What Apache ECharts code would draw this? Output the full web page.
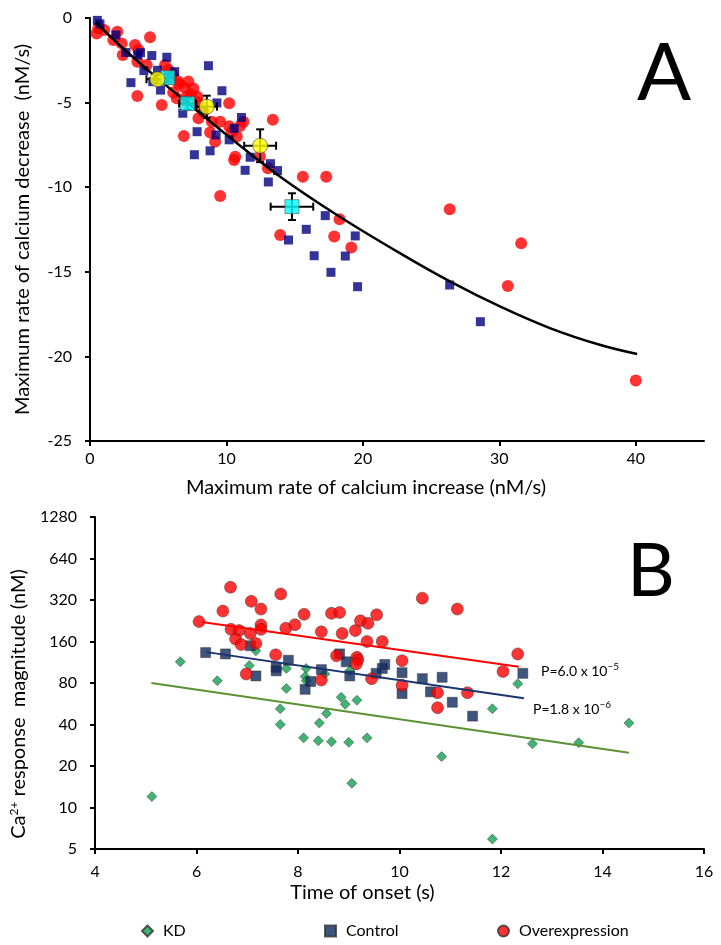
<!DOCTYPE html>
<html>
<head>
<meta charset="utf-8">
<script src="https://cdn.jsdelivr.net/npm/echarts@6/dist/echarts.min.js"></script>
<style>
  html, body { margin: 0; padding: 0; background: #fff; }
  #chart { width: 721px; height: 945px; }
</style>
</head>
<body>
<div id="chart"></div>
<script>
// ---- panel A: max rate of increase (x) vs max rate of decrease (y), nM/s
var controlA = [
  [0.54, -0.14], [0.73, -0.35], [1.9, -1.0], [2.63, -2.04], [3.7, -2.05], [3.5, -2.19],
  [4.53, -2.22], [5.63, -2.32], [8.68, -2.82], [3.95, -3.11], [3.0, -3.82], [4.95, -3.09],
  [6.21, -3.17], [4.6, -3.76], [5.17, -4.26], [9.67, -4.3], [6.8, -5.63], [8.32, -5.42],
  [9.3, -5.02], [7.85, -6.72], [9.24, -6.91], [10.2, -7.2], [10.57, -6.52], [11.1, -5.88],
  [7.65, -8.08], [8.8, -7.85], [11.74, -8.23], [11.37, -9.0], [13.23, -8.61], [13.74, -9.02],
  [13.07, -9.69], [17.24, -11.68], [15.85, -12.49], [19.44, -12.88], [14.55, -13.12],
  [16.43, -14.05], [18.71, -14.07], [17.66, -15.03], [19.61, -15.88], [26.36, -15.78], [28.61, -17.95]
]
var overA = [
  [0.49, -0.91], [0.61, -0.61], [1.05, -0.71], [1.71, -1.3], [2.0, -0.81], [2.32, -1.5],
  [2.4, -2.19], [3.3, -1.6], [3.55, -1.89], [4.4, -1.14], [3.47, -2.58], [4.16, -2.78],
  [5.5, -2.78], [5.75, -3.07], [6.06, -3.37], [6.48, -3.76], [3.47, -4.61], [5.26, -5.14],
  [6.36, -4.75], [7.21, -3.76], [7.58, -4.16], [7.87, -4.65], [7.09, -4.65], [6.0, -3.3],
  [6.5, -3.9], [6.9, -4.1], [7.4, -4.5], [6.1, -4.4], [7.0, -4.9], [7.9, -5.0], [5.8, -3.6],
  [8.31, -5.54], [7.95, -5.93], [8.93, -6.13], [9.54, -6.13], [10.2, -5.04], [6.88, -6.97],
  [8.8, -6.76], [9.17, -7.31], [10.2, -6.4], [10.4, -6.72], [11.0, -6.38], [11.25, -6.13],
  [10.76, -7.01], [10.64, -8.2], [10.56, -8.39], [12.45, -8.18], [13.4, -6.01], [9.54, -10.52],
  [13.04, -8.88], [15.6, -9.38], [17.31, -9.38], [18.29, -11.9], [13.94, -12.82], [17.9, -12.92],
  [19.15, -13.57], [26.36, -11.31], [31.6, -13.32], [30.62, -15.84], [40.0, -21.43]
]
// group means: [x, y, x error, y error]
var overMeansA = [[4.94, -3.62, 0.8, 0.25], [8.56, -5.24, 0.75, 0.65], [12.47, -7.55, 1.17, 0.97]]
var controlMeansA = [[5.7, -3.53, 0.45, 0.25], [7.15, -5.06, 0.62, 0.35], [14.8, -11.15, 1.56, 0.79]]
// fitted curve
var fitA = [
  [0.4, -0.25], [2.5, -1.85], [5, -3.6], [7.2, -5.05], [10, -6.9], [13.94, -9.38],
  [18.1, -11.64], [22.74, -13.91], [26.41, -15.58], [30.08, -17.06], [33.75, -18.34],
  [37.42, -19.33], [40.1, -19.86]
]

// ---- panel B: time of onset (s) vs Ca2+ response magnitude (nM), log2 axis
var kdB = [
  [5.12, 12], [5.68, 114], [6.41, 83], [7.04, 107], [7.17, 137], [7.77, 102], [7.77, 73],
  [7.65, 52], [7.65, 40], [8.11, 32], [8.16, 102], [8.14, 89], [8.16, 83], [8.40, 30.5],
  [8.42, 41], [8.56, 48], [8.53, 93], [8.66, 30], [8.85, 63], [8.93, 56], [9.0, 29.7],
  [9.02, 98], [9.06, 15], [9.16, 60], [9.36, 32], [10.83, 23.4], [11.83, 52], [11.83, 5.9],
  [12.33, 79], [12.62, 29], [13.53, 29.5], [14.52, 41]
]
var controlB = [
  [6.18, 133], [6.57, 130], [7.06, 149], [7.17, 90], [7.57, 104], [7.57, 98], [7.81, 117],
  [8.14, 72], [8.25, 82], [8.46, 100], [8.82, 130], [8.95, 114], [9.02, 90], [9.54, 94],
  [9.66, 102], [9.71, 109], [10.05, 95], [10.05, 67], [10.45, 86], [10.61, 69], [10.84, 88],
  [11.04, 58], [11.44, 46], [12.43, 94]
]
var overB = [
  [6.05, 223], [6.67, 396], [6.52, 266], [7.08, 313], [7.27, 275], [7.66, 354], [7.27, 211],
  [7.27, 196], [6.68, 196], [6.84, 192], [7.06, 183], [6.77, 167], [6.88, 152], [7.17, 155],
  [7.76, 200], [7.94, 212], [8.12, 252], [7.56, 128], [6.98, 93], [8.46, 188], [8.66, 256],
  [8.82, 260], [8.87, 183], [9.13, 192], [9.23, 226], [9.38, 217], [9.55, 250], [9.36, 160],
  [9.66, 160], [8.76, 126], [9.16, 123], [9.18, 118], [9.15, 110], [8.46, 84], [9.45, 86],
  [10.05, 116], [10.05, 77], [10.45, 330], [11.14, 275], [10.75, 68], [10.75, 53], [11.34, 68],
  [12.04, 97], [12.33, 130]
]
var kdFit = [[5.11, 80], [14.52, 25]]
var controlFit = [[6.2, 134], [12.45, 62]]
var overFit = [[6.1, 222], [12.35, 105]]
var yTicksB = [5, 10, 20, 40, 80, 160, 320, 640, 1280]

var FONT = 'Lato'
var log2B = function (pts) {
  return pts.map(function (p) { return [p[0], Math.log2(p[1] / yTicksB[0])] })
}

function errorBars (params, api) {
  var x = api.value(0)
  var y = api.value(1)
  var ex = api.value(2)
  var ey = api.value(3)
  var l = api.coord([x - ex, y])
  var r = api.coord([x + ex, y])
  var t = api.coord([x, y + ey])
  var b = api.coord([x, y - ey])
  var c = 4
  var st = { stroke: '#000', lineWidth: 2 }
  var seg = function (x1, y1, x2, y2) {
    return { type: 'line', shape: { x1: x1, y1: y1, x2: x2, y2: y2 }, style: st }
  }
  return {
    type: 'group',
    children: [
      seg(l[0], l[1], r[0], r[1]),
      seg(t[0], t[1], b[0], b[1]),
      seg(l[0], l[1] - c, l[0], l[1] + c),
      seg(r[0], r[1] - c, r[0], r[1] + c),
      seg(t[0] - c, t[1], t[0] + c, t[1]),
      seg(b[0] - c, b[1], b[0] + c, b[1])
    ]
  }
}

var axisBase = {
  axisLine: { onZero: false, lineStyle: { color: '#000', width: 2 } },
  axisTick: { inside: false, length: 5, lineStyle: { color: '#000', width: 2 } },
  axisLabel: { color: '#000', fontSize: 16, fontFamily: FONT },
  splitLine: { show: false },
  nameTextStyle: { color: '#000', fontSize: 20, fontFamily: FONT }
}
var legendText = { fontSize: 16, fontFamily: FONT, color: '#000', padding: [0, 0, 0, 5] }
var pRich = {
  t: { fontSize: 14, fontFamily: FONT, fill: '#000' },
  s: { fontSize: 10, fontFamily: FONT, fill: '#000', padding: [0, 0, 8, 0] }
}

var myChart = echarts.init(document.getElementById('chart'), null, { renderer: 'canvas' })
myChart.setOption({
  backgroundColor: '#fff',
  animation: false,
  grid: [
    { left: 90, top: 18, width: 614, height: 423 },
    { left: 90, top: 517, width: 614, height: 332 }
  ],
  xAxis: [
    Object.assign({}, axisBase, {
      type: 'value', gridIndex: 0, min: 0, max: 45, interval: 10,
      axisTick: Object.assign({}, axisBase.axisTick, { customValues: [0, 10, 20, 30, 40] }),
      axisLabel: Object.assign({}, axisBase.axisLabel, { customValues: [0, 10, 20, 30, 40], margin: 10 }),
      name: 'Maximum rate of calcium increase (nM/s)',
      nameLocation: 'middle',
      nameGap: 37,
      nameTextStyle: Object.assign({}, axisBase.nameTextStyle, { padding: [0, 62, 0, 0] })
    }),
    Object.assign({}, axisBase, {
      type: 'value', gridIndex: 1, min: 4, max: 16, interval: 2,
      axisLabel: Object.assign({}, axisBase.axisLabel, { margin: 15 }),
      name: 'Time of onset (s)',
      nameLocation: 'middle',
      nameGap: 34,
      nameTextStyle: Object.assign({}, axisBase.nameTextStyle, { padding: [0, 74, 0, 0] })
    })
  ],
  yAxis: [
    Object.assign({}, axisBase, {
      type: 'value', gridIndex: 0, min: -25, max: 0, interval: 5,
      axisLabel: Object.assign({}, axisBase.axisLabel, { margin: 18 }),
      name: 'Maximum rate of calcium decrease  (nM/s)',
      nameLocation: 'middle',
      nameGap: 57
    }),
    Object.assign({}, axisBase, {
      type: 'value', gridIndex: 1, min: 0, max: 8, interval: 1,
      axisLabel: Object.assign({}, axisBase.axisLabel, {
        margin: 18,
        formatter: function (v) { return String(yTicksB[0] * Math.pow(2, v)) }
      }),
      name: '{t|Ca}{s|2+}{t| response  magnitude (nM)}',
      nameLocation: 'middle',
      nameGap: 57,
      nameTextStyle: {
        color: '#000', fontSize: 20, fontFamily: FONT, padding: [0, 42, 0, 0],
        rich: {
          t: { fontSize: 20, fontFamily: FONT, color: '#000' },
          s: { fontSize: 12, fontFamily: FONT, color: '#000', padding: [0, 0, 10, 0] }
        }
      }
    })
  ],
  legend: [
    { data: ['KD'], left: 136, top: 918, itemWidth: 11, itemHeight: 11, textStyle: legendText },
    { data: ['Control'], left: 319, top: 918, itemWidth: 11, itemHeight: 11, textStyle: legendText },
    { data: ['Overexpression'], left: 492, top: 918, itemWidth: 11, itemHeight: 11, textStyle: legendText }
  ],
  graphic: [
    { type: 'text', x: 664, y: 74, style: { text: 'A', fontSize: 80, fontFamily: FONT, fill: '#000', textAlign: 'center', textVerticalAlign: 'middle' } },
    { type: 'text', x: 651, y: 572, style: { text: 'B', fontSize: 74, fontFamily: FONT, fill: '#000', textAlign: 'center', textVerticalAlign: 'middle' } },
    { type: 'text', x: 541, y: 671, style: { text: '{t|P=6.0 x 10}{s|\u22125}', textVerticalAlign: 'middle', rich: pRich } },
    { type: 'text', x: 533, y: 709, style: { text: '{t|P=1.8 x 10}{s|\u22126}', textVerticalAlign: 'middle', rich: pRich } }
  ],
  series: [
    // panel A
    { name: 'Overexpression A', type: 'scatter', xAxisIndex: 0, yAxisIndex: 0, symbol: 'circle', symbolSize: 12, itemStyle: { color: '#ff0000' }, data: overA },
    { name: 'Control A', type: 'scatter', xAxisIndex: 0, yAxisIndex: 0, symbol: 'rect', symbolSize: 9, itemStyle: { color: '#000080' }, data: controlA },
    { name: 'Fit A', type: 'line', xAxisIndex: 0, yAxisIndex: 0, smooth: 0.3, symbol: 'none', lineStyle: { color: '#000', width: 2.5 }, data: fitA, z: 3 },
    { name: 'Error A', type: 'custom', xAxisIndex: 0, yAxisIndex: 0, renderItem: errorBars, data: overMeansA.concat(controlMeansA), z: 4 },
    { name: 'Control mean A', type: 'scatter', xAxisIndex: 0, yAxisIndex: 0, symbol: 'rect', symbolSize: 14, itemStyle: { color: '#00ffff', borderColor: '#555', borderWidth: 0.8 }, data: controlMeansA, z: 5 },
    { name: 'Overexpression mean A', type: 'scatter', xAxisIndex: 0, yAxisIndex: 0, symbol: 'circle', symbolSize: 15, itemStyle: { color: '#ffff00', borderColor: '#444', borderWidth: 0.8 }, data: overMeansA, z: 5 },
    // panel B
    { name: 'KD', type: 'scatter', xAxisIndex: 1, yAxisIndex: 1, symbol: 'diamond', symbolSize: 10, itemStyle: { color: '#12a050', borderColor: '#333', borderWidth: 0.6 }, data: log2B(kdB) },
    { name: 'Control', type: 'scatter', xAxisIndex: 1, yAxisIndex: 1, symbol: 'rect', symbolSize: 10, itemStyle: { color: '#0f2b5e', borderColor: '#333', borderWidth: 0.6 }, data: log2B(controlB) },
    { name: 'Overexpression', type: 'scatter', xAxisIndex: 1, yAxisIndex: 1, symbol: 'circle', symbolSize: 12, itemStyle: { color: '#ff0000', borderColor: '#333', borderWidth: 0.6 }, data: log2B(overB) },
    { name: 'KD fit', type: 'line', xAxisIndex: 1, yAxisIndex: 1, symbol: 'none', lineStyle: { color: '#5b9234', width: 2 }, data: log2B(kdFit), z: 3 },
    { name: 'Control fit', type: 'line', xAxisIndex: 1, yAxisIndex: 1, symbol: 'none', lineStyle: { color: '#1a3270', width: 2 }, data: log2B(controlFit), z: 3 },
    { name: 'Overexpression fit', type: 'line', xAxisIndex: 1, yAxisIndex: 1, symbol: 'none', lineStyle: { color: '#ff0000', width: 2 }, data: log2B(overFit), z: 3 }
  ]
})
</script>
</body>
</html>
